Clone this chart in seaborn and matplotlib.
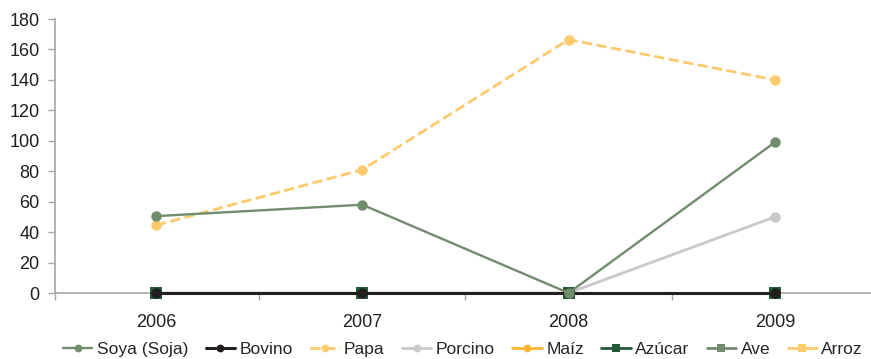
import matplotlib
matplotlib.use("Agg")
import matplotlib.pyplot as plt
from matplotlib.font_manager import fontManager
import seaborn as sns
import pandas as pd

years = ["2006", "2007", "2008", "2009"]

soya = [50.5, 58, 0, 99]
bovino = [0, 0, 0, 0]
papa = [44.5, 81, 166.5, 140]
porcino = [0, 0, 0, 50]
maiz = [0, 0, 0, 0]
azucar = [0, 0, 0, 0]
ave = [0, 0, 0, 0]
arroz = [0, 0, 0, 0]

series_names = ["Soya (Soja)", "Bovino", "Papa", "Porcino", "Maíz", "Azúcar", "Ave", "Arroz"]
series_values = [soya, bovino, papa, porcino, maiz, azucar, ave, arroz]

styles = {
    "Soya (Soja)": dict(color="#718d6d", marker="o", ls="-", lw=1.7, z=10),
    "Bovino": dict(color="#231f20", marker="o", ls="-", lw=2.2, z=9),
    "Papa": dict(color="#fdca6e", marker="o", ls="--", lw=2.0, z=4),
    "Porcino": dict(color="#c9c9c9", marker="o", ls="-", lw=2.0, z=5),
    "Maíz": dict(color="#fbb634", marker="o", ls="-", lw=2.0, z=3),
    "Azúcar": dict(color="#225b35", marker="s", ls="-", lw=2.0, z=7),
    "Ave": dict(color="#718d6d", marker="s", ls="-", lw=2.0, z=6),
    "Arroz": dict(color="#fdca6e", marker="s", ls="-", lw=2.0, z=2),
}

names = {f.name for f in fontManager.ttflist}
if "Liberation Sans Narrow" in names:
    base = "Liberation Sans Narrow"
elif "Liberation Sans" in names:
    base = "Liberation Sans"
else:
    base = "DejaVu Sans"
sns.set_style("white")
plt.rcParams["font.family"] = [base, "DejaVu Sans"]

fig = plt.figure(figsize=(8.71, 3.59), dpi=100)
ax = fig.add_axes([55 / 871, 66 / 359, 1 - 55 / 871, (293 - 19) / 359])

x = list(range(len(years)))
for name, vals in zip(series_names, series_values):
    st = styles[name]
    df = pd.DataFrame({"x": x, "y": vals})
    sns.lineplot(data=df, x="x", y="y", ax=ax, color=st["color"], marker=st["marker"],
                 linestyle=st["ls"], linewidth=st["lw"],
                 markersize=7.5 if st["marker"] == "o" else 8,
                 markeredgewidth=0, label=name, zorder=st["z"], clip_on=False)

ax.set_xlim(-0.49, 3.466)
ax.set_ylim(0, 180)
ax.set_yticks(range(0, 181, 20))
ax.set_xlabel("")
ax.set_ylabel("")

ax.set_xticks([-0.49, 0.5, 1.5, 2.5])
ax.set_xticklabels([])
ax.set_xticks(x, minor=True)
ax.set_xticklabels(years, minor=True)
ax.tick_params(axis="x", which="major", length=5, width=1, color="#a6a6a6", direction="out", bottom=True)
ax.tick_params(axis="x", which="minor", length=0, pad=15, labelsize=13, labelcolor="#231f20")
ax.tick_params(axis="y", length=5, width=1, color="#a6a6a6", direction="out", left=True,
               pad=6, labelsize=13, labelcolor="#231f20")

for s in ["top", "right"]:
    ax.spines[s].set_visible(False)
for s in ["left", "bottom"]:
    ax.spines[s].set_color("#a6a6a6")
    ax.spines[s].set_linewidth(1.2)

handles, labels = ax.get_legend_handles_labels()
ax.legend(handles, labels, loc="center", bbox_to_anchor=(463 / 871, 10 / 359),
          bbox_transform=fig.transFigure, ncol=8, frameon=False, fontsize=12.5,
          handlelength=1.7, handletextpad=0.25, columnspacing=1.0, markerscale=0.75,
          borderpad=0, borderaxespad=0)

fig.savefig("out.png", dpi=100)
